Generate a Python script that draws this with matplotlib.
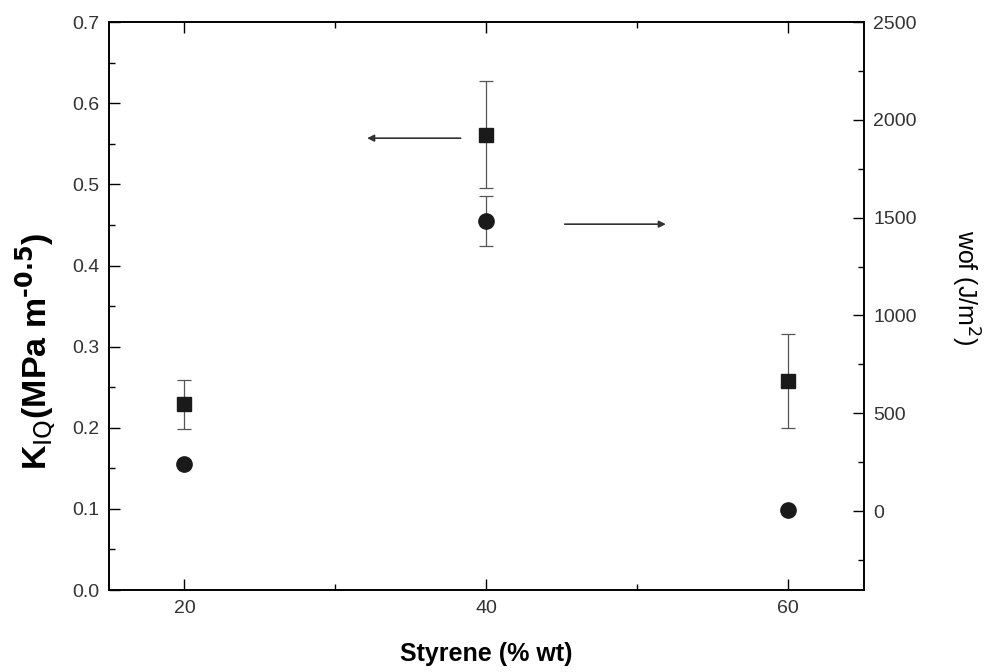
import numpy as np
import matplotlib
matplotlib.use("Agg")
import matplotlib.pyplot as plt
from matplotlib.ticker import MultipleLocator

plt.rcParams['font.family'] = ['Liberation Sans', 'DejaVu Sans']

# data
styrene = [20, 40, 60]
kiq = [0.229, 0.561, 0.258]
kiq_err = [0.030, 0.066, 0.058]
wof = [240, 1483, 5]
wof_err = [0, 128, 0]

fig = plt.figure(figsize=(9.85, 6.72), dpi=100)
ax = fig.add_axes([0.1107, 0.122, 0.766, 0.845])
ax2 = ax.twinx()

ebar_kw = dict(ecolor='#555555', elinewidth=0.9, capsize=5, capthick=0.9)
ax.errorbar(styrene, kiq, yerr=kiq_err, fmt='s', color='#1a1a1a',
            markersize=9.5, **ebar_kw)
werr = [e if e > 0 else np.nan for e in wof_err]
ax2.errorbar(styrene, wof, yerr=werr, fmt='o', color='#1a1a1a',
             markersize=11, **ebar_kw)

ax.set_xlim(15, 65)
ax.set_ylim(0, 0.7)
ax2.set_ylim(-404, 2500)

ax.xaxis.set_major_locator(MultipleLocator(20))
ax.xaxis.set_minor_locator(MultipleLocator(10))
ax.yaxis.set_major_locator(MultipleLocator(0.1))
ax.yaxis.set_minor_locator(MultipleLocator(0.05))
ax2.yaxis.set_major_locator(MultipleLocator(500))
ax2.yaxis.set_minor_locator(MultipleLocator(250))

ax.tick_params(axis='x', which='both', direction='in', top=True, bottom=True)
ax.tick_params(axis='y', which='both', direction='in', left=True, right=False)
ax2.tick_params(axis='y', which='both', direction='in', right=True)
for a in (ax, ax2):
    a.tick_params(which='major', length=8, width=1.0, labelsize=14,
                  labelcolor='#333333', pad=7)
    a.tick_params(which='minor', length=4.5, width=1.0)
    for s in a.spines.values():
        s.set_linewidth(1.2)

ax.yaxis.set_major_formatter(plt.FuncFormatter(lambda v, p: f"{v:.1f}"))

ax.set_xlabel('Styrene (% wt)', fontsize=18, fontweight='bold', labelpad=18)
ax.set_ylabel(r'K$_{\mathrm{IQ}}$(MPa m$^{\mathbf{‐0.5}}$)', fontsize=24.5,
              fontweight='bold')
ax.yaxis.set_label_coords(-0.068, 0.42)
ax2.set_ylabel(r'wof (J/m$^{2}$)', fontsize=18, rotation=-90, va='center')
ax2.yaxis.set_label_coords(1.134, 0.533)

# arrows pointing to the relevant axis
ax.annotate('', xy=(32.1, 0.557), xytext=(38.3, 0.557),
            arrowprops=dict(arrowstyle='-|>', color='#333333', lw=1.2,
                            mutation_scale=10, shrinkA=0, shrinkB=0))
ax2.annotate('', xy=(51.9, 1467), xytext=(45.2, 1467),
             arrowprops=dict(arrowstyle='-|>', color='#333333', lw=1.2,
                             mutation_scale=10, shrinkA=0, shrinkB=0))

fig.savefig('out.png', dpi=100)
